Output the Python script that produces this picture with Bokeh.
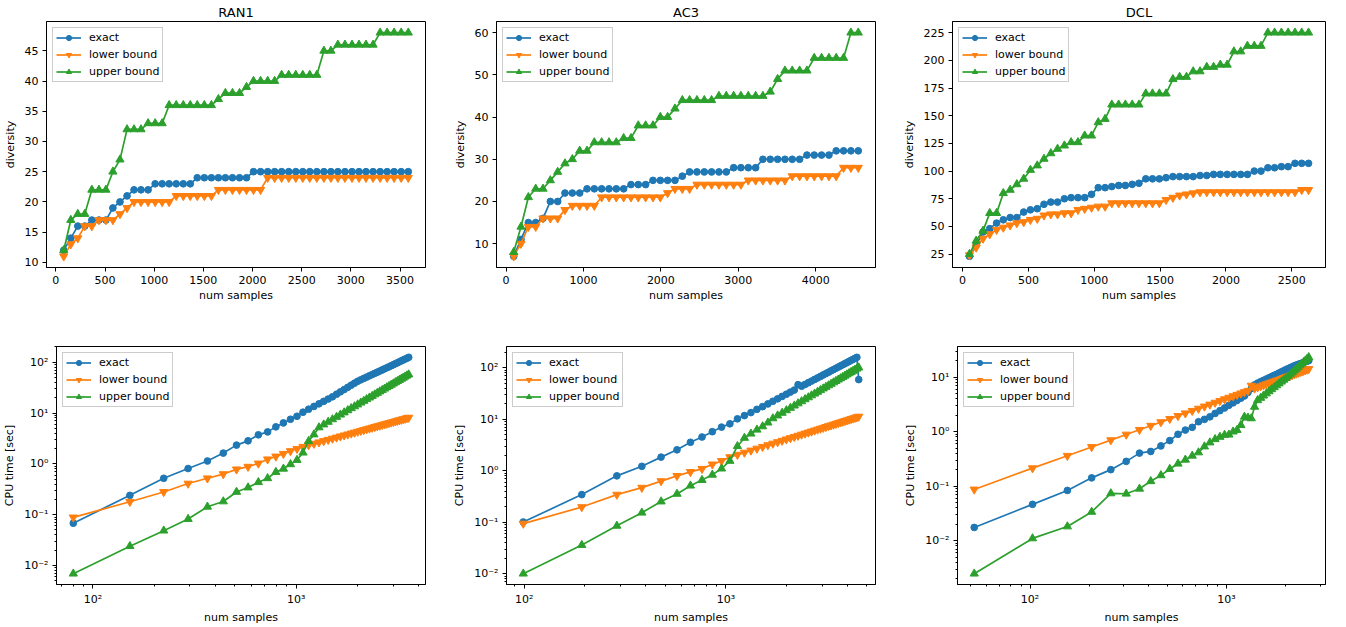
import numpy as np
from bokeh.plotting import figure
from bokeh.layouts import row, column
from bokeh.models import Range1d, FixedTicker, CustomJSTickFormatter, Legend, LegendItem
from bokeh.embed import file_html
from bokeh.resources import INLINE

# ---------------- data ----------------
series_names = ["exact", "lower bound", "upper bound"]
colors = ["#1f77b4", "#ff7f0e", "#2ca02c"]
markers = ["circle", "inverted_triangle", "triangle"]

ran1_samples = [80, 152, 223, 294, 366, 438, 509, 580, 652, 724, 795, 866, 938, 1010, 1081,
                1152, 1224, 1296, 1367, 1438, 1510, 1582, 1653, 1724, 1796, 1868, 1939, 2010,
                2082, 2154, 2225, 2296, 2368, 2440, 2511, 2582, 2654, 2726, 2797, 2868, 2940,
                3012, 3083, 3154, 3226, 3298, 3369, 3440, 3512, 3584]
ran1_div_exact = [12, 14, 16, 16, 17, 17, 17, 19, 20, 21, 22, 22, 22,
                  23, 23, 23, 23, 23, 23, 24, 24, 24, 24, 24, 24, 24, 24,
                  25, 25, 25, 25, 25, 25, 25, 25, 25, 25, 25, 25, 25, 25, 25, 25, 25, 25, 25, 25, 25, 25, 25]
ran1_div_lower = [11, 13, 14, 16, 16, 17, 17, 17, 18, 19, 20, 20, 20, 20, 20, 20,
                  21, 21, 21, 21, 21, 21, 22, 22, 22, 22, 22, 22, 22,
                  24, 24, 24, 24, 24, 24, 24, 24, 24, 24, 24, 24, 24, 24, 24, 24, 24, 24, 24, 24, 24]
ran1_div_upper = [12, 17, 18, 18, 22, 22, 22, 25, 27, 32, 32, 32, 33, 33, 33,
                  36, 36, 36, 36, 36, 36, 36, 37, 38, 38, 38, 39, 40, 40, 40, 40,
                  41, 41, 41, 41, 41, 41, 45, 45, 46, 46, 46, 46, 46, 46, 48, 48, 48, 48, 48]
ran1_cpu_exact = [0.068, 0.24, 0.52, 0.81, 1.14, 1.63, 2.34, 2.84, 3.73, 4.26, 5.35, 6.4, 7.55, 8.65, 10.4,
                  11.9, 13.5, 15.2, 17.0, 18.9, 20.9, 23.5, 26.2, 29.0, 32.1, 35.4, 38.8, 42.3, 45.1,
                  48.1, 51.0, 54.1, 57.3, 60.5, 63.8, 67.2, 70.7, 74.3, 77.9, 81.6, 85.5, 89.4, 93.5,
                  97.7, 102, 106.5, 111, 115.5, 120, 125]
ran1_cpu_lower = [0.0885, 0.18, 0.28, 0.41, 0.52, 0.63, 0.78, 0.88, 1.02, 1.23, 1.40, 1.58, 1.79, 1.98, 2.17,
                  2.34, 2.50, 2.66, 2.82, 2.98, 3.15, 3.31, 3.48, 3.64, 3.81, 3.98, 4.14, 4.31, 4.48,
                  4.65, 4.82, 4.99, 5.16, 5.34, 5.51, 5.68, 5.85, 6.03, 6.2, 6.37, 6.55, 6.73, 6.9,
                  7.08, 7.25, 7.43, 7.61, 7.78, 7.96, 8.14]
ran1_cpu_upper = [0.0069, 0.024, 0.0485, 0.082, 0.143, 0.182, 0.28, 0.342, 0.435, 0.52, 0.69, 0.80, 0.98,
                  1.19, 1.66, 2.8, 3.78, 5.2, 5.94, 6.69, 7.51, 8.37, 9.29, 10.25, 11.3, 12.4, 13.5,
                  14.7, 16.0, 17.3, 18.7, 20.1, 21.6, 23.2, 24.8, 26.5, 28.2, 30.1, 32.0, 33.9, 35.9,
                  38.0, 40.2, 42.4, 44.7, 47.1, 49.5, 52.0, 54.6, 57.2]

ac3_samples = [99, 193, 288, 383, 477, 572, 667, 761, 856, 951, 1046, 1140, 1235, 1330, 1424, 1519,
               1614, 1708, 1803, 1898, 1993, 2087, 2182, 2277, 2371, 2466, 2561, 2655, 2750, 2845,
               2940, 3034, 3129, 3224, 3318, 3413, 3508, 3603, 3697, 3792, 3887, 3981, 4076, 4171,
               4265, 4360, 4455, 4550]
ac3_div_exact = [7, 11, 15, 15, 16, 20, 20, 22, 22, 22, 23, 23, 23, 23, 23, 23, 24, 24, 24,
                 25, 25, 25, 25, 26, 27, 27, 27, 27, 27, 27, 28, 28, 28, 28,
                 30, 30, 30, 30, 30, 30, 31, 31, 31, 31, 32, 32, 32, 32]
ac3_div_lower = [7, 10, 14, 14, 16, 16, 16, 18, 19, 19, 19, 19, 21, 21, 21, 21, 21, 21, 21, 21, 21,
                 22, 23, 23, 23, 24, 24, 24, 24, 24, 24, 24, 25, 25, 25, 25, 25, 25,
                 26, 26, 26, 26, 26, 26, 26, 28, 28, 28]
ac3_div_upper = [8, 14, 21, 23, 23, 25, 27, 29, 30, 32, 32, 34, 34, 34, 34, 35, 35, 38, 38, 38,
                 40, 40, 42, 44, 44, 44, 44, 44, 45, 45, 45, 45, 45, 45, 45, 46, 49,
                 51, 51, 51, 51, 54, 54, 54, 54, 54, 60, 60]
ac3_cpu_exact = [0.101, 0.344, 0.796, 1.22, 1.84, 2.55, 3.58, 4.53, 5.74, 7.05, 8.17, 10.2, 11.8, 13.5,
                 15.6, 17.6, 19.9, 22.4, 25.0, 27.8, 30.7, 33.8, 37.0, 47.0, 44.0, 47.5, 51.4, 55.3,
                 59.4, 63.7, 68.1, 72.7, 77.4, 82.3, 87.4, 92.5, 97.9, 103.4, 109, 114.8, 120.8,
                 126.9, 133.1, 139.6, 146.1, 152.9, 160, 59]
ac3_cpu_lower = [0.094, 0.197, 0.344, 0.469, 0.63, 0.796, 0.95, 1.09, 1.33, 1.55, 1.84, 2.05, 2.26,
                 2.48, 2.70, 2.92, 3.15, 3.38, 3.61, 3.84, 4.08, 4.32, 4.56, 4.81, 5.06, 5.31, 5.56,
                 5.81, 6.07, 6.33, 6.59, 6.85, 7.12, 7.39, 7.65, 7.92, 8.20, 8.47, 8.75, 9.02, 9.30,
                 9.58, 9.86, 10.15, 10.43, 10.72, 11.0, 11.3]
ac3_cpu_upper = [0.01, 0.036, 0.085, 0.153, 0.252, 0.355, 0.513, 0.658, 0.834, 1.10, 1.55, 3.0, 4.34,
                 5.25, 6.26, 7.26, 8.6, 10.4, 11.8, 13.3, 14.9, 16.6, 18.4, 20.3, 22.3, 24.4, 26.6,
                 29.0, 31.4, 34.0, 36.7, 39.5, 42.4, 45.4, 48.6, 51.9, 55.3, 58.8, 62.4, 66.2, 70.1,
                 74.1, 78.3, 82.6, 87.0, 91.5, 96.2, 101]

dcl_samples = [52, 103, 155, 206, 258, 309, 361, 412, 464, 515, 567, 618, 670, 721, 773, 824, 876,
               927, 979, 1030, 1082, 1133, 1185, 1236, 1288, 1339, 1391, 1442, 1494, 1545, 1597,
               1648, 1700, 1751, 1803, 1854, 1906, 1957, 2009, 2060, 2112, 2163, 2215, 2266, 2318,
               2369, 2421, 2472, 2524, 2575, 2627]
dcl_div_exact = [23, 33, 45, 48, 53, 56, 58, 58, 63, 65, 66, 70, 72, 72, 75, 76, 76, 76, 79, 85, 85,
                 86, 87, 87, 88, 89, 93, 93, 93, 94, 95, 95, 95, 95, 96, 96, 97, 97, 97, 97, 97, 97,
                 100, 100, 103, 103, 104, 104, 107, 107, 107]
dcl_div_lower = [24, 31, 39, 43, 47, 49, 51, 53, 54, 56, 57, 60, 61, 61, 62, 62, 65, 66, 67, 68, 68,
                 71, 71, 71, 71, 71, 71, 71, 71, 74, 76, 78, 79, 80,
                 81, 81, 81, 81, 81, 81, 81, 81, 81, 81, 81, 81, 81, 81, 81, 83, 83]
dcl_div_upper = [25, 37, 46, 62, 62, 80, 83, 88, 93, 101, 105, 111, 116, 120, 123, 126, 126, 132, 132,
                 144, 147, 160, 160, 160, 160, 160, 170, 170, 170, 170, 183, 185, 185, 190, 190, 194,
                 194, 196, 196, 208, 208, 213, 213, 213, 225, 225, 225, 225, 225, 225, 225]
dcl_cpu_exact = [0.0175, 0.0464, 0.0834, 0.142, 0.201, 0.285, 0.404, 0.433, 0.548, 0.686, 0.895, 1.07,
                 1.2, 1.52, 1.68, 1.87, 2.16, 2.43, 2.72, 3.04, 3.38, 3.74, 4.12, 4.52, 5.24, 6.16, 7.2,
                 7.78, 8.25, 8.74, 9.24, 9.74, 10.26, 10.79, 11.3, 11.9, 12.5, 13.1, 13.7, 14.3, 14.9,
                 15.5, 16.1, 16.6, 17.1, 17.6, 18.1, 18.6, 19.1, 19.6, 20.1]
dcl_cpu_lower = [0.087, 0.214, 0.361, 0.524, 0.699, 0.886, 1.081, 1.285, 1.497, 1.716, 1.942, 2.173,
                 2.41, 2.65, 2.90, 3.15, 3.41, 3.67, 3.94, 4.21, 4.48, 4.76, 5.05, 5.33, 5.62, 7.0,
                 6.21, 6.51, 6.81, 7.12, 7.43, 7.74, 8.06, 8.37, 8.69, 9.01, 9.34, 9.67, 10.0, 10.33,
                 10.67, 11.0, 11.35, 11.69, 12.04, 12.38, 12.73, 13.09, 13.44, 13.8, 14.15]
dcl_cpu_upper = [0.00248, 0.011, 0.0182, 0.0337, 0.0736, 0.0726, 0.0895, 0.123, 0.158, 0.206, 0.258,
                 0.305, 0.361, 0.415, 0.533, 0.631, 0.726, 0.80, 0.869, 0.88, 1.0, 1.07, 1.32, 1.87,
                 1.8, 1.75, 2.85, 3.76, 4.15, 4.57, 5.01, 5.48, 5.98, 6.5, 7.05, 7.64, 8.25, 8.9,
                 9.58, 10.3, 11.2, 12.1, 13.1, 14.1, 15.2, 16.4, 17.6, 18.8, 20.1, 21.5, 23.1]

# tick labels
ran1_xticks = [0, 500, 1000, 1500, 2000, 2500, 3000, 3500]
ran1_yticks = [10, 15, 20, 25, 30, 35, 40, 45]
ac3_xticks = [0, 1000, 2000, 3000, 4000]
ac3_yticks = [10, 20, 30, 40, 50, 60]
dcl_xticks = [0, 500, 1000, 1500, 2000, 2500]
dcl_yticks = [25, 50, 75, 100, 125, 150, 175, 200, 225]

FONT = "DejaVu Sans"

SUP_JS = r"""
const sup = {"-": "\u207b", "0": "\u2070", "1": "\u00b9", "2": "\u00b2", "3": "\u00b3",
             "4": "\u2074", "5": "\u2075", "6": "\u2076", "7": "\u2077", "8": "\u2078", "9": "\u2079"};
const e = Math.round(Math.log10(tick));
let s = "";
for (const c of String(e)) { s += sup[c]; }
return "10" + s;
"""


def lin_range(vals):
    lo, hi = min(vals), max(vals)
    pad = 0.05 * (hi - lo)
    return Range1d(lo - pad, hi + pad)


def log_range(vals):
    lv = np.log10(np.asarray(vals, dtype=float))
    lo, hi = lv.min(), lv.max()
    pad = 0.05 * (hi - lo)
    return Range1d(10 ** (lo - pad), 10 ** (hi + pad))


def log_ticker(rng):
    lo = int(np.floor(np.log10(rng.start))) - 1
    hi = int(np.ceil(np.log10(rng.end))) + 1
    major = [10.0 ** e for e in range(lo, hi + 1)]
    minor = [m * 10.0 ** e for e in range(lo, hi + 1) for m in range(2, 10)]
    return FixedTicker(ticks=major, minor_ticks=minor)


def style_axes(p, log):
    for ax in (p.xaxis[0], p.yaxis[0]):
        ax.axis_line_color = "black"
        ax.axis_line_width = 1
        ax.major_tick_line_color = "black"
        ax.major_tick_out = 4
        ax.major_tick_in = 0
        ax.minor_tick_out = 2
        ax.minor_tick_in = 0
        ax.minor_tick_line_color = "black" if log else None
        ax.major_label_text_font = FONT
        ax.major_label_text_font_size = "11px"
        ax.major_label_text_color = "black"
        ax.axis_label_text_font = FONT
        ax.axis_label_text_font_size = "11px"
        ax.axis_label_text_font_style = "normal"
        ax.axis_label_text_color = "black"
    p.xaxis[0].major_label_standoff = 4
    p.xaxis[0].axis_label_standoff = 2
    p.yaxis[0].major_label_standoff = 4
    p.yaxis[0].axis_label_standoff = 5


def panel(x, ys, log, title, ylabel, width, height, borders, xticks=None, yticks=None):
    left, right, top, bottom = borders
    if log:
        xr, yr = log_range(x), log_range([v for y in ys for v in y])
    else:
        xr, yr = lin_range(x), lin_range([v for y in ys for v in y])
    p = figure(width=width, height=height, output_backend="svg", toolbar_location=None,
               x_axis_type="log" if log else "linear", y_axis_type="log" if log else "linear",
               x_range=xr, y_range=yr, title=title,
               min_border_left=left, min_border_right=right,
               min_border_top=top, min_border_bottom=bottom)
    p.background_fill_color = "white"
    p.border_fill_color = "white"
    p.outline_line_color = "black"
    p.outline_line_width = 1
    p.outline_line_alpha = 1
    p.grid.visible = False
    if title:
        p.title.text_font = FONT
        p.title.text_font_size = "13px"
        p.title.text_font_style = "normal"
        p.title.text_color = "black"
        p.title.align = "center"
        p.title.standoff = 3
    p.xaxis.axis_label = "num samples"
    p.yaxis.axis_label = ylabel
    if log:
        p.xaxis.ticker = log_ticker(xr)
        p.yaxis.ticker = log_ticker(yr)
        p.xaxis.formatter = CustomJSTickFormatter(code=SUP_JS)
        p.yaxis.formatter = CustomJSTickFormatter(code=SUP_JS)
    else:
        p.xaxis.ticker = FixedTicker(ticks=xticks)
        p.yaxis.ticker = FixedTicker(ticks=yticks)
    style_axes(p, log)

    items = []
    for name, col, mk, y in zip(series_names, colors, markers, ys):
        ln = p.line(x, y, line_color=col, line_width=1.7)
        size = 6.7 if mk == "circle" else 8.2
        sc = p.scatter(x, y, marker=mk, size=size, fill_color=col, line_color=col, line_width=1)
        items.append(LegendItem(label=name, renderers=[ln, sc]))
    leg = Legend(items=items, location="top_left", margin=6, padding=3, spacing=4,
                 glyph_width=25, glyph_height=13, label_height=13, label_standoff=8,
                 label_text_font=FONT, label_text_font_size="11px", label_text_color="black",
                 border_line_color="#cccccc", border_line_width=1, border_line_alpha=1,
                 background_fill_color="white", background_fill_alpha=0.8)
    p.add_layout(leg)
    return p


# Bokeh's page has no body margin: columns 450 / 445 / 450 px, rows 310 / 316 px.
# Frames inside one row share top/bottom edges.
p1 = panel(ran1_samples, [ran1_div_exact, ran1_div_lower, ran1_div_upper], False, "RAN1", "diversity",
           450, 310, (46, 25, 21, 43), ran1_xticks, ran1_yticks)
p2 = panel(ac3_samples, [ac3_div_exact, ac3_div_lower, ac3_div_upper], False, "AC3", "diversity",
           445, 310, (46, 20, 21, 43), ac3_xticks, ac3_yticks)
p3 = panel(dcl_samples, [dcl_div_exact, dcl_div_lower, dcl_div_upper], False, "DCL", "diversity",
           450, 310, (57, 20, 21, 43), dcl_xticks, dcl_yticks)
p4 = panel(ran1_samples, [ran1_cpu_exact, ran1_cpu_lower, ran1_cpu_upper], True, None, "CPU time [sec]",
           450, 316, (56, 25, 36, 40))
p5 = panel(ac3_samples, [ac3_cpu_exact, ac3_cpu_lower, ac3_cpu_upper], True, None, "CPU time [sec]",
           445, 316, (56, 20, 36, 40))
p6 = panel(dcl_samples, [dcl_cpu_exact, dcl_cpu_lower, dcl_cpu_upper], True, None, "CPU time [sec]",
           450, 316, (62, 20, 36, 40))

layout = column(row(p1, p2, p3), row(p4, p5, p6))
open("out.html", "w").write(file_html(layout, INLINE))
